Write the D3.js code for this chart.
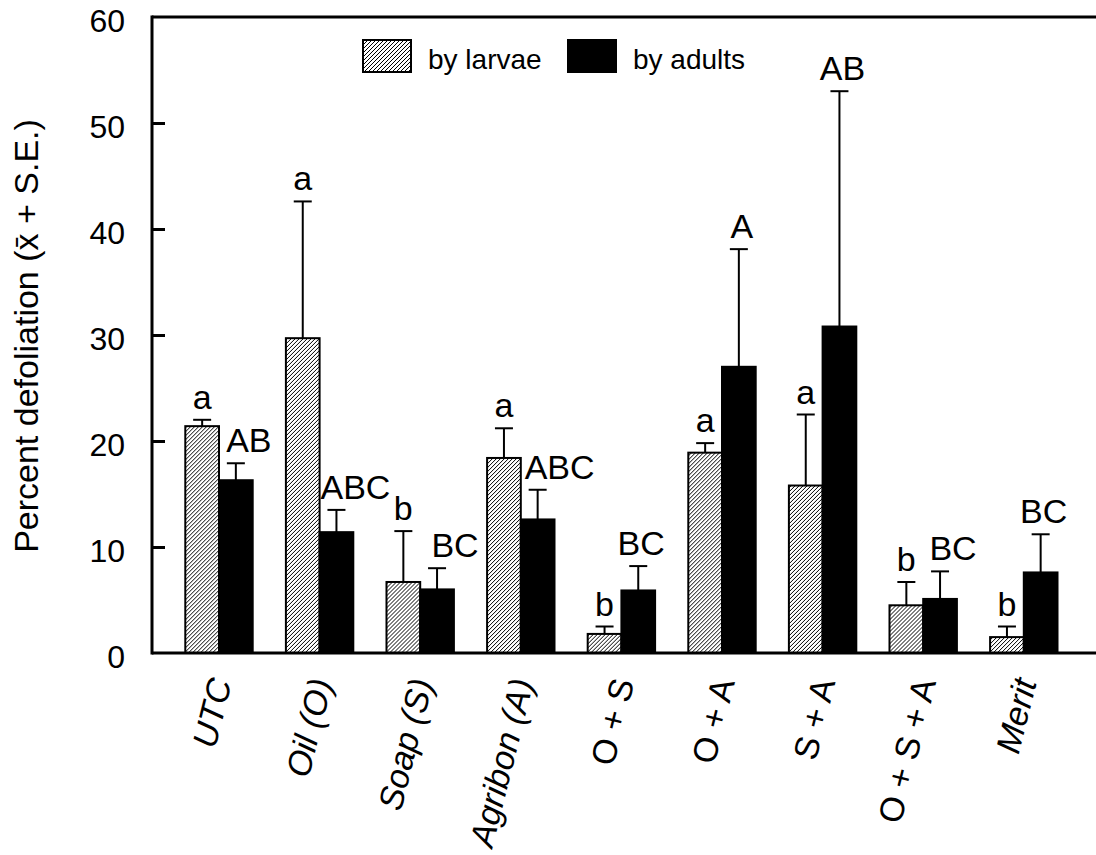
<!DOCTYPE html>
<html>
<head>
<meta charset="utf-8">
<script src="https://cdn.jsdelivr.net/npm/d3@7"></script>
<style>
  body { margin: 0; background: #fff; }
  text { font-family: "Liberation Sans", Arial, sans-serif; fill: #000; }
</style>
</head>
<body>
<div id="chart"></div>
<script>
// Data
const categories = ["UTC", "Oil (O)", "Soap (S)", "Agribon (A)", "O + S", "O + A", "S + A", "O + S + A", "Merit"];
const italicCategories = ["UTC", "Oil (O)", "Soap (S)", "Agribon (A)", "Merit"];
const seriesNames = ["by larvae", "by adults"];
const larvaeMean = [21.4, 29.7, 6.7, 18.4, 1.8, 18.9, 15.8, 4.5, 1.5];
const larvaeSE = [0.6, 12.9, 4.8, 2.8, 0.7, 0.9, 6.7, 2.2, 1.0];
const adultsMean = [16.3, 11.4, 6.0, 12.6, 5.9, 27.0, 30.8, 5.1, 7.6];
const adultsSE = [1.6, 2.1, 2.0, 2.8, 2.3, 11.1, 22.2, 2.6, 3.6];
const larvaeLetters = ["a", "a", "b", "a", "b", "a", "a", "b", "b"];
const adultsLetters = ["AB", "ABC", "BC", "ABC", "BC", "A", "AB", "BC", "BC"];
const yTicks = [0, 10, 20, 30, 40, 50, 60];

(function () {
  const width = 1096, height = 855;
  const plot = { left: 152, top: 17, bottom: 653, right: 1100 };

  const svg = d3.select("#chart").append("svg")
    .attr("width", width)
    .attr("height", height);

  // hatch for the larvae bars
  const defs = svg.append("defs");
  const pat = defs.append("pattern")
    .attr("id", "hatch")
    .attr("patternUnits", "userSpaceOnUse")
    .attr("width", 4)
    .attr("height", 4);
  pat.append("rect").attr("width", 4).attr("height", 4).attr("fill", "#fff");
  pat.append("path")
    .attr("d", "M-1,1 l2,-2 M0,4 l4,-4 M3,5 l2,-2")
    .attr("stroke", "#000")
    .attr("stroke-width", 1);

  const fills = ["url(#hatch)", "#000"];

  const y = d3.scaleLinear().domain([0, 60]).range([plot.bottom, plot.top]);
  const x0 = d3.scaleBand()
    .domain(categories)
    .range([168.7, 1074.1])
    .paddingInner(0.33)
    .paddingOuter(0.165);
  const x1 = d3.scaleBand()
    .domain(seriesNames)
    .range([0, x0.bandwidth()]);

  const rows = categories.map((c, i) => ({
    cat: c,
    bars: [
      { s: seriesNames[0], mean: larvaeMean[i], se: larvaeSE[i], letter: larvaeLetters[i] },
      { s: seriesNames[1], mean: adultsMean[i], se: adultsSE[i], letter: adultsLetters[i] }
    ]
  }));

  const groups = svg.append("g")
    .selectAll("g")
    .data(rows)
    .join("g")
    .attr("transform", (d) => `translate(${x0(d.cat)},0)`);

  // error bars (drawn first so the bar outline sits on top)
  groups.selectAll(".err")
    .data((d) => d.bars)
    .join("g")
    .attr("class", "err")
    .each(function (d) {
      const g = d3.select(this);
      const cx = x1(d.s) + x1.bandwidth() / 2;
      g.append("line")
        .attr("x1", cx).attr("x2", cx)
        .attr("y1", y(d.mean)).attr("y2", y(d.mean + d.se))
        .attr("stroke", "#000").attr("stroke-width", 2);
      g.append("line")
        .attr("x1", cx - 9).attr("x2", cx + 9)
        .attr("y1", y(d.mean + d.se)).attr("y2", y(d.mean + d.se))
        .attr("stroke", "#000").attr("stroke-width", 2);
    });

  groups.selectAll("rect")
    .data((d) => d.bars)
    .join("rect")
    .attr("x", (d) => x1(d.s))
    .attr("y", (d) => y(d.mean))
    .attr("width", x1.bandwidth())
    .attr("height", (d) => y(0) - y(d.mean))
    .attr("fill", (d) => fills[seriesNames.indexOf(d.s)])
    .attr("stroke", "#000")
    .attr("stroke-width", 2);

  // letters over the bars; a few adult labels were nudged right in the original
  const nudge = { "UTC": 13, "Oil (O)": 19, "Soap (S)": 18, "Agribon (A)": 22, "O + S + A": 13 };
  groups.each(function (row) {
    d3.select(this).selectAll(".lab")
      .data(row.bars)
      .join("text")
      .attr("class", "lab")
      .attr("x", (d, i) => x1(d.s) + x1.bandwidth() / 2 + (i === 1 ? (nudge[row.cat] || 3) : 0))
      .attr("y", (d) => y(d.mean + d.se) - 11)
      .attr("text-anchor", "middle")
      .style("font-size", "34px")
      .text((d) => d.letter);
  });

  // frame: left axis, top line, bottom axis
  svg.append("line")
    .attr("x1", plot.left).attr("x2", plot.right)
    .attr("y1", plot.top).attr("y2", plot.top)
    .attr("stroke", "#000").attr("stroke-width", 3);
  svg.append("line")
    .attr("x1", plot.left).attr("x2", plot.right)
    .attr("y1", plot.bottom).attr("y2", plot.bottom)
    .attr("stroke", "#000").attr("stroke-width", 3);

  const yAxis = svg.append("g")
    .attr("transform", `translate(${plot.left},0)`)
    .call(d3.axisLeft(y).tickValues(yTicks).tickSize(-13).tickPadding(27));
  yAxis.select(".domain").attr("stroke-width", 3).attr("d", `M0,${plot.top - 1.5}V${plot.bottom + 1.5}`);
  yAxis.selectAll(".tick line").attr("stroke-width", 3);
  yAxis.selectAll(".tick text")
    .attr("dy", "0.45em")
    .style("font-size", "32px")
    .style("font-family", '"Liberation Sans", Arial, sans-serif')
    .attr("fill", "#000");
  yAxis.selectAll(".tick").filter((d) => d === 0 || d === 60).select("line").remove();

  // y title
  svg.append("text")
    .attr("transform", "translate(38,336) rotate(-90)")
    .attr("text-anchor", "middle")
    .style("font-size", "34px")
    .text("Percent defoliation (x\u0304 + S.E.)");

  // category labels, slanted
  svg.append("g")
    .selectAll("text")
    .data(categories)
    .join("text")
    .attr("transform", (d) => `translate(${x0(d) + x0.bandwidth() / 2 + 13},682) rotate(-76)`)
    .attr("text-anchor", "end")
    .style("font-size", "34px")
    .style("font-style", (d) => (italicCategories.includes(d) ? "italic" : "normal"))
    .text((d) => d);

  // legend
  const legend = svg.append("g");
  const legX = [363, 568];
  seriesNames.forEach((s, i) => {
    legend.append("rect")
      .attr("x", legX[i]).attr("y", 40)
      .attr("width", 48).attr("height", 32)
      .attr("fill", fills[i])
      .attr("stroke", "#000").attr("stroke-width", 2);
    legend.append("text")
      .attr("x", legX[i] + 65).attr("y", 69)
      .style("font-size", "28px")
      .text(s);
  });
})();
</script>
</body>
</html>
